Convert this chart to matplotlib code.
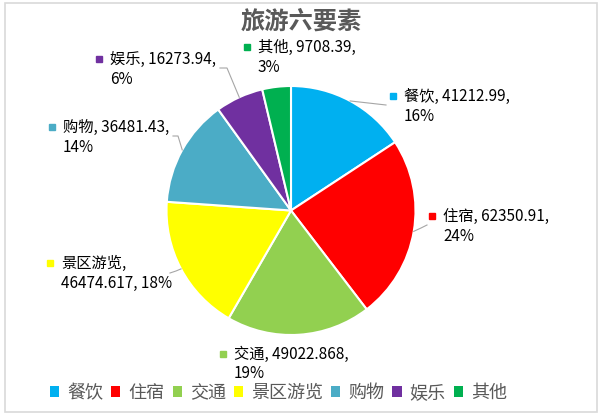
import numpy as np
import matplotlib
matplotlib.use("Agg")
import matplotlib.pyplot as plt
from matplotlib.patches import Patch, Rectangle

plt.rcParams['font.family'] = ['Noto Sans CJK SC', 'DejaVu Sans']

# Chart data
categories = ["餐饮", "住宿", "交通", "景区游览", "购物", "娱乐", "其他"]
values = [41212.99, 62350.91, 49022.868, 46474.617, 36481.43, 16273.94, 9708.39]
value_text = ["41212.99", "62350.91", "49022.868", "46474.617", "36481.43", "16273.94", "9708.39"]
pct_text = ["16%", "24%", "19%", "18%", "14%", "6%", "3%"]
colors = ["#00B0F0", "#FF0000", "#92D050", "#FFFF00", "#4BACC6", "#7030A0", "#00B050"]
title = "旅游六要素"

# Figure in pixel coordinates (y grows downward)
fig = plt.figure(figsize=(6.04, 4.17), dpi=100)
ax = fig.add_axes([0, 0, 1, 1])
ax.set_xlim(0, 604)
ax.set_ylim(417, 0)
ax.set_aspect("equal")
ax.axis("off")

# Outer border of the chart area
ax.add_patch(Rectangle((5, 3), 592, 409, fill=False, edgecolor="#D9D9D9", linewidth=1.2))

cx, cy, r = 291, 210.5, 124.5
wedges, _ = ax.pie(values, colors=colors, startangle=-90, counterclock=True,
                   center=(cx, cy), radius=r,
                   wedgeprops=dict(edgecolor="white", linewidth=1.5))
ax.set_xlim(0, 604)
ax.set_ylim(417, 0)

ax.text(301.5, 22, title, ha="center", va="center", fontsize=17.5,
        color="#595959", fontweight="bold")

# Data label layout: marker position, first line, second line, leader points
layout = [
    dict(m=(393, 96), l1=f"{categories[0]}, {value_text[0]},", l2=pct_text[0], lead=[(386, 105)]),
    dict(m=(432, 216), l1=f"{categories[1]}, {value_text[1]},", l2=pct_text[1], lead=[(427, 225), (421, 228)]),
    dict(m=(223, 354), l1=f"{categories[2]}, {value_text[2]},", l2=pct_text[2], lead=None),
    dict(m=(50, 263), l1=f"{categories[3]},", l2=f"{value_text[3]}, {pct_text[3]}", lead=[(170, 273), (176, 271)]),
    dict(m=(52, 127), l1=f"{categories[4]}, {value_text[4]},", l2=pct_text[4], lead=[(173, 136), (178, 136)]),
    dict(m=(99, 59), l1=f"{categories[5]}, {value_text[5]},", l2=pct_text[5], lead=[(220, 68), (227, 68)]),
    dict(m=(247, 47), l1=f"{categories[6]}, {value_text[6]},", l2=pct_text[6], lead=None),
]

for w, c, lab in zip(wedges, colors, layout):
    mx, my = lab["m"]
    ax.plot(mx, my, marker="s", ms=5, color=c, linestyle="none")
    ax.text(mx + 11, my, lab["l1"], ha="left", va="center", fontsize=11, color="black")
    ax.text(mx + 11, my + 20, lab["l2"], ha="left", va="center", fontsize=11, color="black")
    if lab["lead"]:
        mid = np.deg2rad((w.theta1 + w.theta2) / 2)
        ex, ey = cx + r * np.cos(mid), cy + r * np.sin(mid)
        pts = lab["lead"] + [(ex, ey)]
        ax.plot([p[0] for p in pts], [p[1] for p in pts], color="#A6A6A6", linewidth=0.8)

# Legend along the bottom
handles = [Patch(facecolor=c, edgecolor="none") for c in colors]
leg = ax.legend(handles, categories, ncol=7, loc="center", bbox_to_anchor=(278.5, 393),
                bbox_transform=ax.transData, frameon=False, fontsize=13,
                handlelength=0.5, handleheight=0.5, handletextpad=0.45,
                columnspacing=0.45, borderpad=0)
for t in leg.get_texts():
    t.set_color("#595959")

fig.savefig("out.png", dpi=100, facecolor="white")
